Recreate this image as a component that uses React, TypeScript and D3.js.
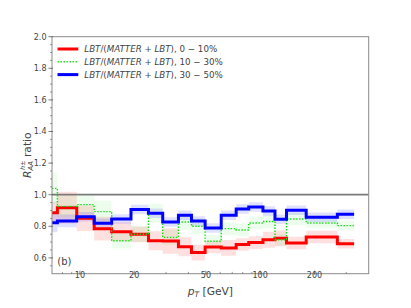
import React from 'react';
import * as d3 from 'd3';

// bin edges in pT [GeV] and the three centrality ratios
const ptEdges = [7, 7.5, 9.6, 12, 15, 19.2, 24, 28.8, 35.2, 41.6, 49.5, 60.8, 73.6, 86.4, 103.6, 120.8, 140, 180, 268, 332];

const ratio0to10 = [0.886, 0.918, 0.851, 0.785, 0.766, 0.749, 0.709, 0.707, 0.671, 0.634, 0.669, 0.663, 0.685, 0.697, 0.715, 0.724, 0.694, 0.732, 0.69];
const err0to10 = [0.07, 0.1, 0.08, 0.075, 0.06, 0.05, 0.06, 0.08, 0.06, 0.05, 0.04, 0.05, 0.04, 0.04, 0.05, 0.05, 0.04, 0.04, 0.03];

const ratio10to30 = [1.04, 0.926, 0.937, 0.893, 0.709, 0.75, 0.882, 0.73, 0.827, 0.8, 0.705, 0.785, 0.777, 0.821, 0.83, 0.715, 0.846, 0.821, 0.804];
const err10to30 = [0.1, 0.07, 0.06, 0.07, 0.05, 0.05, 0.06, 0.05, 0.05, 0.05, 0.04, 0.04, 0.04, 0.04, 0.04, 0.04, 0.04, 0.03, 0.03];

const ratio30to50 = [0.823, 0.834, 0.861, 0.819, 0.846, 0.907, 0.882, 0.827, 0.87, 0.834, 0.789, 0.87, 0.909, 0.922, 0.897, 0.844, 0.901, 0.857, 0.876];
const err30to50 = [0.06, 0.04, 0.03, 0.03, 0.03, 0.03, 0.03, 0.03, 0.03, 0.03, 0.03, 0.03, 0.03, 0.03, 0.03, 0.03, 0.03, 0.03, 0.03];

const xMajor = [10, 20, 50, 100, 200];
const xMinor = [8, 9, 30, 40, 60, 70, 80, 90, 300];
const yMajor = [0.6, 0.8, 1.0, 1.2, 1.4, 1.6, 1.8, 2.0];

const series = [
  { label: '0 − 10%', values: ratio0to10, errs: err0to10, color: '#ff0000', band: 'rgba(255,0,0,0.12)', width: 3, dash: null },
  { label: '10 − 30%', values: ratio10to30, errs: err10to30, color: '#11dd11', band: 'rgba(0,230,0,0.07)', width: 1.4, dash: '1.4,1.6' },
  { label: '30 − 50%', values: ratio30to50, errs: err30to50, color: '#0000ff', band: 'rgba(0,0,255,0.12)', width: 3, dash: null },
];

const W = 411, H = 308;
const left = 52, right = 368.7, top = 36.7, bottom = 273.7;
const font = 'DejaVu Sans, sans-serif';

export default function App() {
  const x = d3.scaleLog().domain([7, 400]).range([left, right]);
  const y = d3.scaleLinear().domain([0.5, 2.0]).range([bottom, top]);

  // step points: value i holds from edge i to edge i+1
  const steps = (vals: number[]) =>
    ptEdges.map((e, i) => ({ p: e, v: vals[Math.min(i, vals.length - 1)] }));

  const line = d3.line<{ p: number; v: number }>()
    .x(d => x(d.p)).y(d => y(d.v)).curve(d3.curveStepAfter);

  const area = d3.area<{ p: number; lo: number; hi: number }>()
    .x(d => x(d.p)).y0(d => y(d.lo)).y1(d => y(d.hi)).curve(d3.curveStepAfter);

  const bandPts = (vals: number[], errs: number[]) =>
    ptEdges.map((e, i) => {
      const k = Math.min(i, vals.length - 1);
      return { p: e, lo: vals[k] - errs[k], hi: vals[k] + errs[k] };
    });

  const yMinor = d3.range(0.55, 2.0, 0.05).filter(v => Math.abs(v * 5 - Math.round(v * 5)) > 0.01);

  return (
    <svg width={W} height={H} style={{ position: 'absolute', left: 0, top: 0 }} fontFamily={font}>
      <rect width={W} height={H} fill="#fff" />
      <defs>
        <clipPath id="plot">
          <rect x={left} y={top} width={right - left} height={bottom - top} />
        </clipPath>
      </defs>

      <g clipPath="url(#plot)">
        {series.map(s => (
          <path key={'b' + s.label} d={area(bandPts(s.values, s.errs)) || ''} fill={s.band} />
        ))}
        <line x1={left} x2={right} y1={y(1)} y2={y(1)} stroke="#7a7a7a" strokeWidth={1.8} />
        {series.map(s => (
          <path key={'l' + s.label} d={line(steps(s.values)) || ''} fill="none"
            stroke={s.color} strokeWidth={s.width} strokeDasharray={s.dash || undefined} />
        ))}
      </g>

      <rect x={left} y={top} width={right - left} height={bottom - top} fill="none" stroke="#8a8a8a" strokeWidth={1} />

      {/* y ticks */}
      {yMajor.map(v => (
        <g key={'ym' + v}>
          <line x1={left - 3.5} x2={left + 1} y1={y(v)} y2={y(v)} stroke="#555" strokeWidth={0.8} />
          <text x={left - 5.5} y={y(v) + 2.9} fontSize={8} fill="#444" textAnchor="end">{v.toFixed(1)}</text>
        </g>
      ))}
      {yMinor.map(v => (
        <line key={'yn' + v} x1={left - 2} x2={left} y1={y(v)} y2={y(v)} stroke="#555" strokeWidth={0.6} />
      ))}

      {/* x ticks */}
      {xMajor.map(v => (
        <g key={'xm' + v}>
          <line x1={x(v)} x2={x(v)} y1={bottom - 3} y2={bottom + 1} stroke="#555" strokeWidth={0.8} />
          <text x={x(v)} y={bottom + 4.3} fontSize={8} fill="#444" textAnchor="middle">{v}</text>
        </g>
      ))}
      {xMinor.map(v => (
        <line key={'xn' + v} x1={x(v)} x2={x(v)} y1={bottom - 1.8} y2={bottom} stroke="#555" strokeWidth={0.6} />
      ))}

      {/* axis labels */}
      <text x={(left + right) / 2} y={294.5} fontSize={10.7} fill="#444" textAnchor="middle">
        <tspan fontStyle="italic">p</tspan>
        <tspan fontStyle="italic" fontSize={7.5} dy={2}>T</tspan>
        <tspan dy={-2}> [GeV]</tspan>
      </text>
      <text transform={`translate(30.5,${(top + bottom) / 2}) rotate(-90)`} fontSize={10.7} fill="#444" textAnchor="middle">
        <tspan fontStyle="italic">R</tspan>
        <tspan fontStyle="italic" fontSize={7} dy={2.5}>AA</tspan>
        <tspan fontStyle="italic" fontSize={6.5} dx={-9} dy={-8}>h±</tspan>
        <tspan dy={5.5}> ratio</tspan>
      </text>

      <text x={57.3} y={264.8} fontSize={10} fill="#444">(b)</text>

      {/* legend */}
      {series.map((s, i) => {
        const ly = 49 + i * 12.8;
        return (
          <g key={'lg' + s.label}>
            <line x1={57.5} x2={78.3} y1={ly} y2={ly} stroke={s.color} strokeWidth={s.width}
              strokeDasharray={s.dash || undefined} />
            <text x={84.3} y={ly + 3.1} fontSize={8.7} fill="#444">
              <tspan fontStyle="italic">LBT</tspan>/(<tspan fontStyle="italic">MATTER</tspan> + <tspan fontStyle="italic">LBT</tspan>), {s.label}
            </text>
          </g>
        );
      })}
    </svg>
  );
}
